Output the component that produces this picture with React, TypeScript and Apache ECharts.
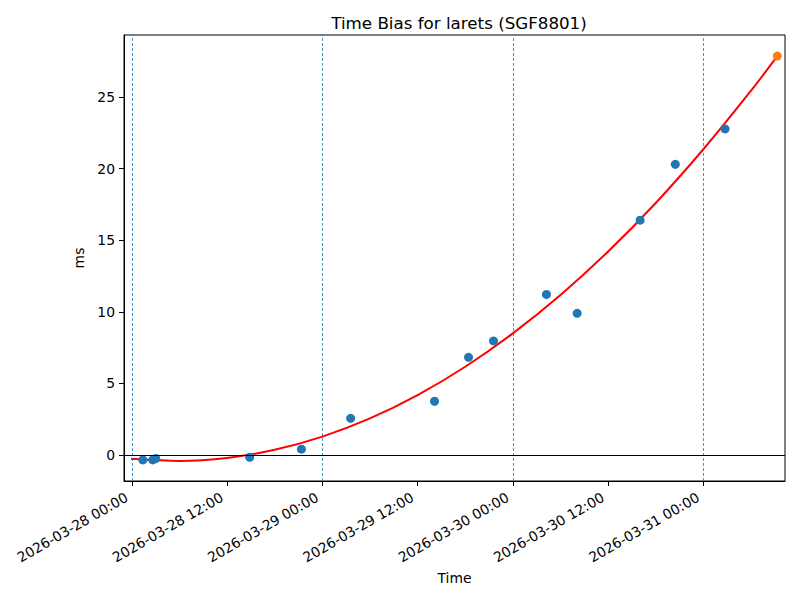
import React, { useEffect, useRef } from "react";
import * as echarts from "echarts";

// Measured time bias points (blue)
const pointTimes = [
  "2026-03-28 01:23", "2026-03-28 02:38", "2026-03-28 03:01", "2026-03-28 14:51",
  "2026-03-28 21:22", "2026-03-29 03:34", "2026-03-29 14:08", "2026-03-29 18:25",
  "2026-03-29 21:34", "2026-03-30 04:14", "2026-03-30 08:06", "2026-03-30 16:02",
  "2026-03-30 20:28", "2026-03-31 02:44",
];
const pointValues = [-0.35, -0.35, -0.25, -0.16, 0.4, 2.56, 3.75, 6.82, 7.96, 11.21, 9.89, 16.4, 20.3, 22.77];

// Latest point (orange)
const latestTime = "2026-03-31 09:19";
const latestValue = 27.86;

// Fit curve (red), every 6 hours
const fitTimes = [
  "2026-03-27 23:54", "2026-03-28 06:00", "2026-03-28 12:00", "2026-03-28 18:00",
  "2026-03-29 00:00", "2026-03-29 06:00", "2026-03-29 12:00", "2026-03-29 18:00",
  "2026-03-30 00:00", "2026-03-30 06:00", "2026-03-30 12:00", "2026-03-30 18:00",
  "2026-03-31 00:00", "2026-03-31 06:00", "2026-03-31 09:19",
];
const fitValues = [-0.27, -0.42, -0.21, 0.36, 1.28, 2.55, 4.18, 6.16, 8.49, 11.17, 14.21, 17.6, 21.35, 25.44, 27.86];

// Midnight reference lines
const dayLines = ["2026-03-28 00:00", "2026-03-29 00:00", "2026-03-30 00:00", "2026-03-31 00:00"];

// Tick labels
const xTicks = [
  "2026-03-28 00:00", "2026-03-28 12:00", "2026-03-29 00:00", "2026-03-29 12:00",
  "2026-03-30 00:00", "2026-03-30 12:00", "2026-03-31 00:00",
];
const yTicks = [0, 5, 10, 15, 20, 25];

const xRange = ["2026-03-27 23:01", "2026-03-31 10:17"];
const yRange = [-1.82, 29.33];

function ts(s: string): number {
  const [d, hm] = s.split(" ");
  const [Y, M, D] = d.split("-").map(Number);
  const [h, m] = hm.split(":").map(Number);
  return Date.UTC(Y, M - 1, D, h, m);
}
const pad = (n: number) => String(n).padStart(2, "0");
function fmt(v: number): string {
  const d = new Date(v);
  return `${d.getUTCFullYear()}-${pad(d.getUTCMonth() + 1)}-${pad(d.getUTCDate())} ${pad(d.getUTCHours())}:${pad(d.getUTCMinutes())}`;
}

const FONT = "DejaVu Sans";

export default function App() {
  const ref = useRef<HTMLDivElement>(null);
  useEffect(() => {
    if (!ref.current) return;
    const chart = echarts.init(ref.current, null, { renderer: "svg" });
    chart.setOption({
      animation: false,
      textStyle: { fontFamily: FONT, color: "#000" },
      title: {
        text: "Time Bias for larets (SGF8801)",
        left: 454,
        textAlign: "center",
        top: 9,
        textStyle: { fontFamily: FONT, fontSize: 16.7, fontWeight: "normal", color: "#000" },
      },
      grid: {
        left: 124,
        right: 15,
        top: 35,
        bottom: 119,
        show: true,
        borderColor: "#000",
        borderWidth: 1,
        backgroundColor: "transparent",
      },
      xAxis: {
        type: "value",
        min: ts(xRange[0]),
        max: ts(xRange[1]),
        name: "Time",
        nameLocation: "middle",
        nameGap: 89,
        nameTextStyle: { fontFamily: FONT, fontSize: 13.9, color: "#000" },
        axisLine: { show: true, onZero: false, lineStyle: { color: "#000", width: 1 } },
        axisTick: {
          show: true,
          length: 5,
          lineStyle: { color: "#000", width: 1 },
          customValues: xTicks.map(ts),
        },
        axisLabel: {
          show: true,
          rotate: 30,
          margin: 12,
          padding: [0, 6, 0, 0],
          fontFamily: FONT,
          fontSize: 13.9,
          color: "#000",
          customValues: xTicks.map(ts),
          formatter: (v: number) => fmt(v),
        },
        splitLine: { show: false },
      },
      yAxis: {
        type: "value",
        min: yRange[0],
        max: yRange[1],
        name: "ms",
        nameLocation: "middle",
        nameGap: 33,
        nameTextStyle: { fontFamily: FONT, fontSize: 13.9, color: "#000" },
        axisLine: { show: true, onZero: false, lineStyle: { color: "#000", width: 1 } },
        axisTick: {
          show: true,
          length: 5,
          lineStyle: { color: "#000", width: 1 },
          customValues: yTicks,
        },
        axisLabel: {
          show: true,
          margin: 9,
          fontFamily: FONT,
          fontSize: 13.9,
          color: "#000",
          customValues: yTicks,
        },
        splitLine: { show: false },
      },
      series: [
        {
          type: "line",
          name: "fit",
          data: fitTimes.map((t, i) => [ts(t), fitValues[i]]),
          smooth: 0.3,
          showSymbol: false,
          symbol: "none",
          lineStyle: { color: "#ff0000", width: 2 },
          z: 3,
          markLine: {
            silent: true,
            symbol: "none",
            label: { show: false },
            data: [
              ...dayLines.map((d) => ({
                xAxis: ts(d),
                lineStyle: { color: "#1f77b4", width: 0.8, type: [3, 2] },
              })),
              { yAxis: 0, lineStyle: { color: "#000", width: 1, type: "solid" } },
            ],
          },
        },
        {
          type: "scatter",
          name: "points",
          data: pointTimes.map((t, i) => [ts(t), pointValues[i]]),
          symbolSize: 9,
          itemStyle: { color: "#1f77b4", opacity: 1 },
          z: 4,
        },
        {
          type: "scatter",
          name: "latest",
          data: [[ts(latestTime), latestValue]],
          symbolSize: 9,
          itemStyle: { color: "#ff7f0e", opacity: 1 },
          z: 5,
        },
      ],
    });
    return () => chart.dispose();
  }, []);
  return <div ref={ref} style={{ width: 800, height: 600, position: "absolute", left: 0, top: 0 }} />;
}
